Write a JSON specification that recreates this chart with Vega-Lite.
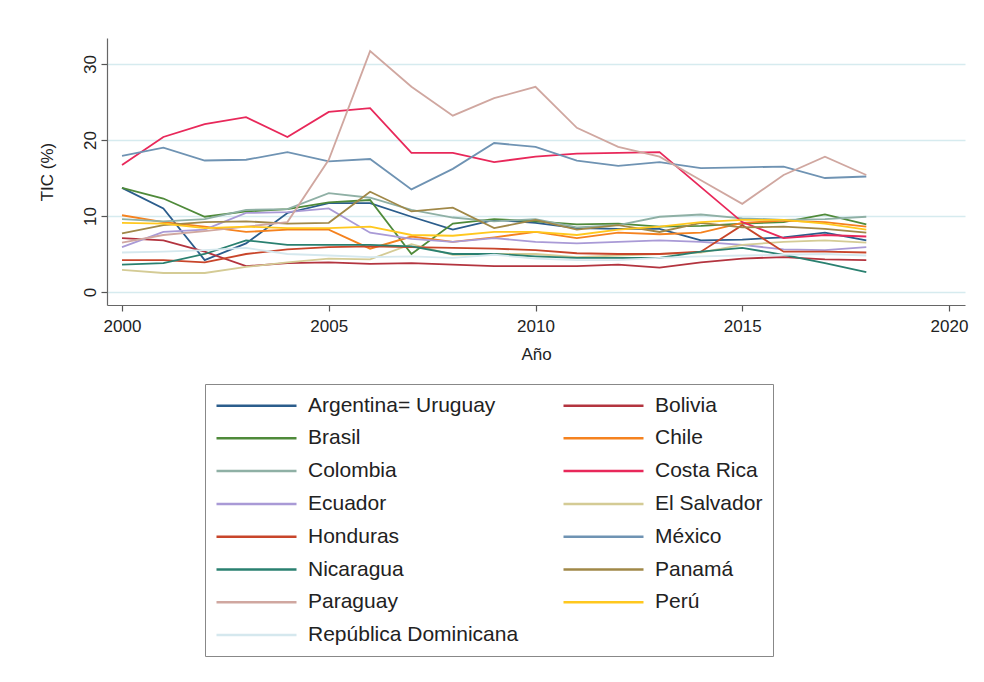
{
"$schema": "https://vega.github.io/schema/vega-lite/v6.json",
"width": 858, "height": 267,
"autosize": {"type": "none"},
"padding": {"left": 107, "top": 38, "right": 19, "bottom": 377},
"background": "white",
"config": {
  "font": "Liberation Sans",
  "view": {"stroke": null},
  "axis": {"domainColor": "#666", "domainWidth": 1.2, "tickColor": "#555", "tickSize": 6, "tickWidth": 1.2, "labelFontSize": 17, "labelColor": "#222", "titleFontSize": 17, "titleColor": "#222", "titleFontWeight": "normal", "gridColor": "#d6ebef", "gridWidth": 1.5}
},
"data": {"values": [
{"country":"Argentina= Uruguay","year":2000,"tic":13.7},{"country":"Argentina= Uruguay","year":2001,"tic":11.0},{"country":"Argentina= Uruguay","year":2002,"tic":4.2},{"country":"Argentina= Uruguay","year":2003,"tic":6.4},{"country":"Argentina= Uruguay","year":2004,"tic":10.4},{"country":"Argentina= Uruguay","year":2005,"tic":11.7},{"country":"Argentina= Uruguay","year":2006,"tic":11.7},{"country":"Argentina= Uruguay","year":2007,"tic":9.9},{"country":"Argentina= Uruguay","year":2008,"tic":8.2},{"country":"Argentina= Uruguay","year":2009,"tic":9.5},{"country":"Argentina= Uruguay","year":2010,"tic":9.1},{"country":"Argentina= Uruguay","year":2011,"tic":8.4},{"country":"Argentina= Uruguay","year":2012,"tic":8.3},{"country":"Argentina= Uruguay","year":2013,"tic":8.3},{"country":"Argentina= Uruguay","year":2014,"tic":6.8},{"country":"Argentina= Uruguay","year":2015,"tic":6.9},{"country":"Argentina= Uruguay","year":2016,"tic":7.2},{"country":"Argentina= Uruguay","year":2017,"tic":7.8},{"country":"Argentina= Uruguay","year":2018,"tic":6.8},
{"country":"Bolivia","year":2000,"tic":7.1},{"country":"Bolivia","year":2001,"tic":6.8},{"country":"Bolivia","year":2002,"tic":5.3},{"country":"Bolivia","year":2003,"tic":3.4},{"country":"Bolivia","year":2004,"tic":3.8},{"country":"Bolivia","year":2005,"tic":3.9},{"country":"Bolivia","year":2006,"tic":3.7},{"country":"Bolivia","year":2007,"tic":3.8},{"country":"Bolivia","year":2008,"tic":3.6},{"country":"Bolivia","year":2009,"tic":3.4},{"country":"Bolivia","year":2010,"tic":3.4},{"country":"Bolivia","year":2011,"tic":3.4},{"country":"Bolivia","year":2012,"tic":3.6},{"country":"Bolivia","year":2013,"tic":3.2},{"country":"Bolivia","year":2014,"tic":3.9},{"country":"Bolivia","year":2015,"tic":4.4},{"country":"Bolivia","year":2016,"tic":4.6},{"country":"Bolivia","year":2017,"tic":4.3},{"country":"Bolivia","year":2018,"tic":4.2},
{"country":"Brasil","year":2000,"tic":13.7},{"country":"Brasil","year":2001,"tic":12.3},{"country":"Brasil","year":2002,"tic":9.9},{"country":"Brasil","year":2003,"tic":10.6},{"country":"Brasil","year":2004,"tic":10.9},{"country":"Brasil","year":2005,"tic":11.8},{"country":"Brasil","year":2006,"tic":12.1},{"country":"Brasil","year":2007,"tic":5.0},{"country":"Brasil","year":2008,"tic":9.0},{"country":"Brasil","year":2009,"tic":9.6},{"country":"Brasil","year":2010,"tic":9.3},{"country":"Brasil","year":2011,"tic":8.9},{"country":"Brasil","year":2012,"tic":9.0},{"country":"Brasil","year":2013,"tic":8.6},{"country":"Brasil","year":2014,"tic":8.7},{"country":"Brasil","year":2015,"tic":9.0},{"country":"Brasil","year":2016,"tic":9.2},{"country":"Brasil","year":2017,"tic":10.2},{"country":"Brasil","year":2018,"tic":8.9},
{"country":"Chile","year":2000,"tic":10.1},{"country":"Chile","year":2001,"tic":9.2},{"country":"Chile","year":2002,"tic":8.6},{"country":"Chile","year":2003,"tic":7.9},{"country":"Chile","year":2004,"tic":8.2},{"country":"Chile","year":2005,"tic":8.2},{"country":"Chile","year":2006,"tic":5.7},{"country":"Chile","year":2007,"tic":7.3},{"country":"Chile","year":2008,"tic":6.6},{"country":"Chile","year":2009,"tic":7.2},{"country":"Chile","year":2010,"tic":7.9},{"country":"Chile","year":2011,"tic":7.1},{"country":"Chile","year":2012,"tic":7.8},{"country":"Chile","year":2013,"tic":7.6},{"country":"Chile","year":2014,"tic":7.8},{"country":"Chile","year":2015,"tic":9.1},{"country":"Chile","year":2016,"tic":9.4},{"country":"Chile","year":2017,"tic":9.2},{"country":"Chile","year":2018,"tic":8.6},
{"country":"Colombia","year":2000,"tic":9.6},{"country":"Colombia","year":2001,"tic":9.3},{"country":"Colombia","year":2002,"tic":9.6},{"country":"Colombia","year":2003,"tic":10.8},{"country":"Colombia","year":2004,"tic":10.9},{"country":"Colombia","year":2005,"tic":13.0},{"country":"Colombia","year":2006,"tic":12.4},{"country":"Colombia","year":2007,"tic":10.8},{"country":"Colombia","year":2008,"tic":9.8},{"country":"Colombia","year":2009,"tic":9.3},{"country":"Colombia","year":2010,"tic":9.6},{"country":"Colombia","year":2011,"tic":8.5},{"country":"Colombia","year":2012,"tic":8.8},{"country":"Colombia","year":2013,"tic":9.9},{"country":"Colombia","year":2014,"tic":10.2},{"country":"Colombia","year":2015,"tic":9.7},{"country":"Colombia","year":2016,"tic":9.5},{"country":"Colombia","year":2017,"tic":9.6},{"country":"Colombia","year":2018,"tic":9.9},
{"country":"Costa Rica","year":2000,"tic":16.7},{"country":"Costa Rica","year":2001,"tic":20.4},{"country":"Costa Rica","year":2002,"tic":22.1},{"country":"Costa Rica","year":2003,"tic":23.0},{"country":"Costa Rica","year":2004,"tic":20.4},{"country":"Costa Rica","year":2005,"tic":23.7},{"country":"Costa Rica","year":2006,"tic":24.2},{"country":"Costa Rica","year":2007,"tic":18.3},{"country":"Costa Rica","year":2008,"tic":18.3},{"country":"Costa Rica","year":2009,"tic":17.1},{"country":"Costa Rica","year":2010,"tic":17.8},{"country":"Costa Rica","year":2011,"tic":18.2},{"country":"Costa Rica","year":2012,"tic":18.3},{"country":"Costa Rica","year":2013,"tic":18.4},{"country":"Costa Rica","year":2014,"tic":13.8},{"country":"Costa Rica","year":2015,"tic":9.2},{"country":"Costa Rica","year":2016,"tic":7.1},{"country":"Costa Rica","year":2017,"tic":7.5},{"country":"Costa Rica","year":2018,"tic":7.3},
{"country":"Ecuador","year":2000,"tic":5.9},{"country":"Ecuador","year":2001,"tic":7.9},{"country":"Ecuador","year":2002,"tic":8.2},{"country":"Ecuador","year":2003,"tic":10.4},{"country":"Ecuador","year":2004,"tic":10.5},{"country":"Ecuador","year":2005,"tic":11.0},{"country":"Ecuador","year":2006,"tic":7.8},{"country":"Ecuador","year":2007,"tic":7.0},{"country":"Ecuador","year":2008,"tic":6.6},{"country":"Ecuador","year":2009,"tic":7.1},{"country":"Ecuador","year":2010,"tic":6.6},{"country":"Ecuador","year":2011,"tic":6.4},{"country":"Ecuador","year":2012,"tic":6.6},{"country":"Ecuador","year":2013,"tic":6.8},{"country":"Ecuador","year":2014,"tic":6.6},{"country":"Ecuador","year":2015,"tic":6.2},{"country":"Ecuador","year":2016,"tic":5.6},{"country":"Ecuador","year":2017,"tic":5.5},{"country":"Ecuador","year":2018,"tic":5.9},
{"country":"El Salvador","year":2000,"tic":2.9},{"country":"El Salvador","year":2001,"tic":2.5},{"country":"El Salvador","year":2002,"tic":2.5},{"country":"El Salvador","year":2003,"tic":3.3},{"country":"El Salvador","year":2004,"tic":3.9},{"country":"El Salvador","year":2005,"tic":4.4},{"country":"El Salvador","year":2006,"tic":4.3},{"country":"El Salvador","year":2007,"tic":6.3},{"country":"El Salvador","year":2008,"tic":4.9},{"country":"El Salvador","year":2009,"tic":5.0},{"country":"El Salvador","year":2010,"tic":5.0},{"country":"El Salvador","year":2011,"tic":4.6},{"country":"El Salvador","year":2012,"tic":4.8},{"country":"El Salvador","year":2013,"tic":5.0},{"country":"El Salvador","year":2014,"tic":5.2},{"country":"El Salvador","year":2015,"tic":6.2},{"country":"El Salvador","year":2016,"tic":6.6},{"country":"El Salvador","year":2017,"tic":6.8},{"country":"El Salvador","year":2018,"tic":6.5},
{"country":"Honduras","year":2000,"tic":4.2},{"country":"Honduras","year":2001,"tic":4.2},{"country":"Honduras","year":2002,"tic":3.9},{"country":"Honduras","year":2003,"tic":5.0},{"country":"Honduras","year":2004,"tic":5.6},{"country":"Honduras","year":2005,"tic":5.9},{"country":"Honduras","year":2006,"tic":6.0},{"country":"Honduras","year":2007,"tic":5.9},{"country":"Honduras","year":2008,"tic":5.8},{"country":"Honduras","year":2009,"tic":5.7},{"country":"Honduras","year":2010,"tic":5.5},{"country":"Honduras","year":2011,"tic":5.1},{"country":"Honduras","year":2012,"tic":5.0},{"country":"Honduras","year":2013,"tic":5.0},{"country":"Honduras","year":2014,"tic":5.3},{"country":"Honduras","year":2015,"tic":8.8},{"country":"Honduras","year":2016,"tic":5.3},{"country":"Honduras","year":2017,"tic":5.3},{"country":"Honduras","year":2018,"tic":5.2},
{"country":"México","year":2000,"tic":17.9},{"country":"México","year":2001,"tic":19.0},{"country":"México","year":2002,"tic":17.3},{"country":"México","year":2003,"tic":17.4},{"country":"México","year":2004,"tic":18.4},{"country":"México","year":2005,"tic":17.2},{"country":"México","year":2006,"tic":17.5},{"country":"México","year":2007,"tic":13.5},{"country":"México","year":2008,"tic":16.2},{"country":"México","year":2009,"tic":19.6},{"country":"México","year":2010,"tic":19.1},{"country":"México","year":2011,"tic":17.3},{"country":"México","year":2012,"tic":16.6},{"country":"México","year":2013,"tic":17.1},{"country":"México","year":2014,"tic":16.3},{"country":"México","year":2015,"tic":16.4},{"country":"México","year":2016,"tic":16.5},{"country":"México","year":2017,"tic":15.0},{"country":"México","year":2018,"tic":15.2},
{"country":"Nicaragua","year":2000,"tic":3.6},{"country":"Nicaragua","year":2001,"tic":3.8},{"country":"Nicaragua","year":2002,"tic":5.0},{"country":"Nicaragua","year":2003,"tic":6.8},{"country":"Nicaragua","year":2004,"tic":6.2},{"country":"Nicaragua","year":2005,"tic":6.2},{"country":"Nicaragua","year":2006,"tic":6.2},{"country":"Nicaragua","year":2007,"tic":6.0},{"country":"Nicaragua","year":2008,"tic":5.0},{"country":"Nicaragua","year":2009,"tic":5.0},{"country":"Nicaragua","year":2010,"tic":4.7},{"country":"Nicaragua","year":2011,"tic":4.5},{"country":"Nicaragua","year":2012,"tic":4.5},{"country":"Nicaragua","year":2013,"tic":4.5},{"country":"Nicaragua","year":2014,"tic":5.3},{"country":"Nicaragua","year":2015,"tic":5.8},{"country":"Nicaragua","year":2016,"tic":4.9},{"country":"Nicaragua","year":2017,"tic":3.8},{"country":"Nicaragua","year":2018,"tic":2.6},
{"country":"Panamá","year":2000,"tic":7.7},{"country":"Panamá","year":2001,"tic":8.8},{"country":"Panamá","year":2002,"tic":9.2},{"country":"Panamá","year":2003,"tic":9.3},{"country":"Panamá","year":2004,"tic":9.0},{"country":"Panamá","year":2005,"tic":9.1},{"country":"Panamá","year":2006,"tic":13.2},{"country":"Panamá","year":2007,"tic":10.6},{"country":"Panamá","year":2008,"tic":11.1},{"country":"Panamá","year":2009,"tic":8.4},{"country":"Panamá","year":2010,"tic":9.5},{"country":"Panamá","year":2011,"tic":8.2},{"country":"Panamá","year":2012,"tic":8.8},{"country":"Panamá","year":2013,"tic":7.9},{"country":"Panamá","year":2014,"tic":9.1},{"country":"Panamá","year":2015,"tic":8.5},{"country":"Panamá","year":2016,"tic":8.6},{"country":"Panamá","year":2017,"tic":8.3},{"country":"Panamá","year":2018,"tic":7.8},
{"country":"Paraguay","year":2000,"tic":6.5},{"country":"Paraguay","year":2001,"tic":7.5},{"country":"Paraguay","year":2002,"tic":8.0},{"country":"Paraguay","year":2003,"tic":8.6},{"country":"Paraguay","year":2004,"tic":9.2},{"country":"Paraguay","year":2005,"tic":17.4},{"country":"Paraguay","year":2006,"tic":31.7},{"country":"Paraguay","year":2007,"tic":27.0},{"country":"Paraguay","year":2008,"tic":23.2},{"country":"Paraguay","year":2009,"tic":25.5},{"country":"Paraguay","year":2010,"tic":27.0},{"country":"Paraguay","year":2011,"tic":21.6},{"country":"Paraguay","year":2012,"tic":19.1},{"country":"Paraguay","year":2013,"tic":17.8},{"country":"Paraguay","year":2014,"tic":14.7},{"country":"Paraguay","year":2015,"tic":11.6},{"country":"Paraguay","year":2016,"tic":15.4},{"country":"Paraguay","year":2017,"tic":17.8},{"country":"Paraguay","year":2018,"tic":15.4},
{"country":"Perú","year":2000,"tic":9.1},{"country":"Perú","year":2001,"tic":9.0},{"country":"Perú","year":2002,"tic":8.4},{"country":"Perú","year":2003,"tic":8.6},{"country":"Perú","year":2004,"tic":8.4},{"country":"Perú","year":2005,"tic":8.4},{"country":"Perú","year":2006,"tic":8.6},{"country":"Perú","year":2007,"tic":7.5},{"country":"Perú","year":2008,"tic":7.4},{"country":"Perú","year":2009,"tic":7.9},{"country":"Perú","year":2010,"tic":7.9},{"country":"Perú","year":2011,"tic":7.5},{"country":"Perú","year":2012,"tic":8.2},{"country":"Perú","year":2013,"tic":8.6},{"country":"Perú","year":2014,"tic":9.2},{"country":"Perú","year":2015,"tic":9.5},{"country":"Perú","year":2016,"tic":9.5},{"country":"Perú","year":2017,"tic":9.0},{"country":"Perú","year":2018,"tic":8.2},
{"country":"República Dominicana","year":2000,"tic":5.2},{"country":"República Dominicana","year":2001,"tic":5.3},{"country":"República Dominicana","year":2002,"tic":5.5},{"country":"República Dominicana","year":2003,"tic":5.8},{"country":"República Dominicana","year":2004,"tic":5.0},{"country":"República Dominicana","year":2005,"tic":4.8},{"country":"República Dominicana","year":2006,"tic":4.6},{"country":"República Dominicana","year":2007,"tic":4.7},{"country":"República Dominicana","year":2008,"tic":4.5},{"country":"República Dominicana","year":2009,"tic":4.9},{"country":"República Dominicana","year":2010,"tic":4.4},{"country":"República Dominicana","year":2011,"tic":4.2},{"country":"República Dominicana","year":2012,"tic":4.2},{"country":"República Dominicana","year":2013,"tic":4.5},{"country":"República Dominicana","year":2014,"tic":4.7},{"country":"República Dominicana","year":2015,"tic":4.8},{"country":"República Dominicana","year":2016,"tic":4.9},{"country":"República Dominicana","year":2017,"tic":5.0},{"country":"República Dominicana","year":2018,"tic":4.8}
]},
"mark": {"type": "line", "strokeWidth": 1.8},
"encoding": {
  "x": {"field": "year", "type": "quantitative",
        "scale": {"domain": [1999.637, 2020.387], "nice": false, "zero": false},
        "axis": {"values": [2000, 2005, 2010, 2015, 2020], "format": "d", "title": "Año", "grid": false, "labelPadding": 7, "titlePadding": 12, "labelFlush": false}},
  "y": {"field": "tic", "type": "quantitative",
        "scale": {"domain": [-1.71, 33.42], "nice": false, "zero": false},
        "axis": {"values": [0, 10, 20, 30], "title": "TIC (%)", "grid": true, "labelAngle": -90, "labelAlign": "center", "labelBaseline": "bottom", "labelPadding": 2, "titlePadding": 25}},
  "color": {"field": "country", "type": "nominal",
        "scale": {
          "domain": ["Argentina= Uruguay", "Bolivia", "Brasil", "Chile", "Colombia", "Costa Rica", "Ecuador", "El Salvador", "Honduras", "México", "Nicaragua", "Panamá", "Paraguay", "Perú", "República Dominicana"],
          "range": ["#2b5d8c", "#b3343f", "#4f8a3a", "#f5821f", "#8fb0a5", "#e8285a", "#a99ad6", "#d4cb95", "#c8452a", "#6f93b3", "#2a8070", "#a08848", "#d0a7a0", "#ffc81e", "#d5e8ee"]},
        "legend": {"title": null, "orient": "none", "legendX": 98, "legendY": 346, "direction": "horizontal", "columns": 2, "columnPadding": 39, "rowPadding": 10.8, "padding": 10, "strokeColor": "#888", "fillColor": "white", "symbolType": "M-4,0H4", "symbolSize": 400, "symbolStrokeWidth": 2.5, "symbolOffset": 30, "labelOffset": 40, "labelFontSize": 21, "labelColor": "#222", "labelLimit": 400}}
}
}
